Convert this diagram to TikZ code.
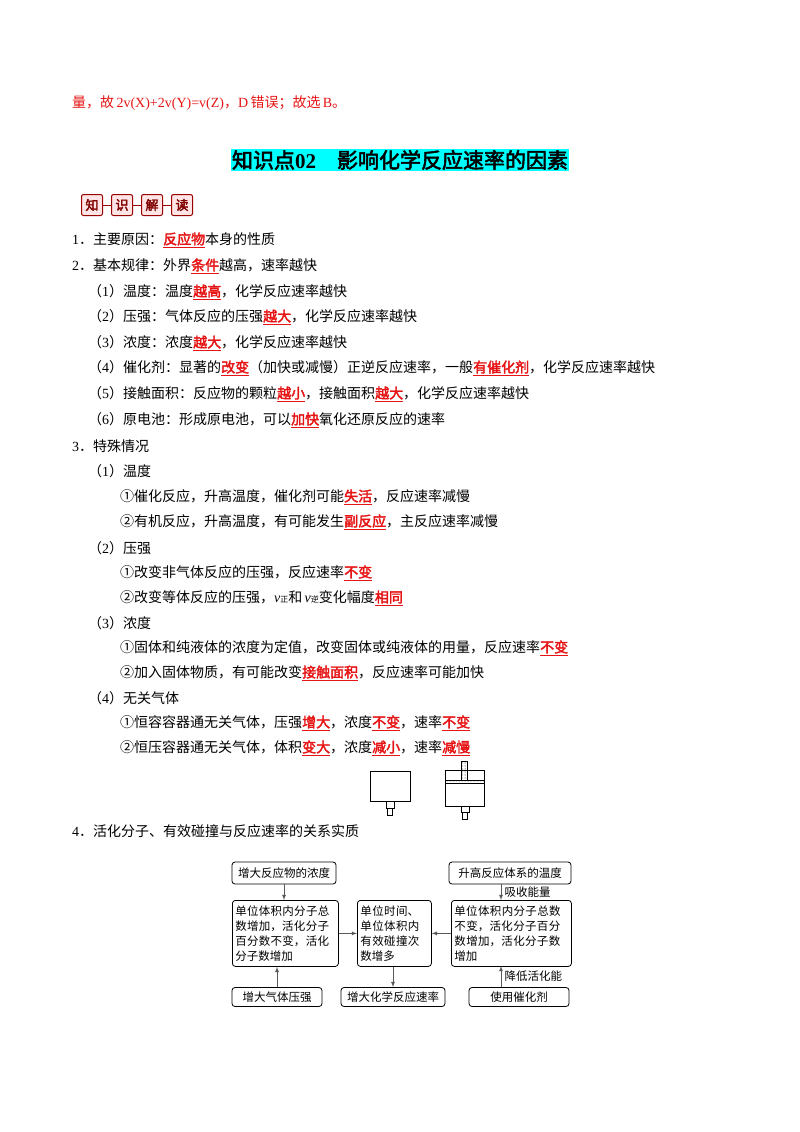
\documentclass[tikz,border=0pt]{standalone}
\usepackage{fontspec}
\setmainfont{Liberation Serif}
\newfontfamily\cjk[AutoFakeBold=2.5]{Noto Sans CJK SC}
\XeTeXlinebreaklocale "zh"
\XeTeXlinebreakskip=0pt plus 1pt
\usetikzlibrary{patterns}
\definecolor{rd}{RGB}{230,20,20}
\definecolor{cy}{RGB}{0,255,255}
\newcommand{\hl}[1]{{\color{rd}\bfseries\underline{#1}}}
\begin{document}
\begin{tikzpicture}[x=1pt,y=-1pt,
  ln/.style={anchor=west,inner sep=0pt,font=\cjk\fontsize{14}{16}\selectfont},
  fb/.style={draw,rounded corners=3pt,thick,inner sep=3pt,font=\cjk\fontsize{11.5}{15}\selectfont,align=left},
  ar/.style={-latex,thick,draw=gray!70!black},
  lb/.style={right,text=black,font=\cjk\fontsize{11.5}{12}\selectfont}]
\useasboundingbox (0,0) rectangle (800,1132);
\node[ln,text=rd] (l0) at (72,103) {量，故\,{\rmfamily 2v(X)+2v(Y)=v(Z)}，{\rmfamily D}\,错误；故选\,{\rmfamily B}。};
\node[fill=cy,inner sep=1pt,font=\cjk\bfseries\fontsize{21}{24}\selectfont] (title) at (400,160) {知识点{\rmfamily\bfseries 02}\quad 影响化学反应速率的因素};
\foreach \i/\c in {0/知,1/识,2/解,3/读}{
  \node[draw=red!60!black,fill=pink!40,rounded corners=2pt,line width=1pt,minimum size=21pt,inner sep=0pt,font=\cjk\bfseries\fontsize{13}{13}\selectfont,text=red!50!black] (b\i) at (92+\i*30,205) {\c};}
\draw[red!60!black,thick] (b0)--(b1) (b1)--(b2) (b2)--(b3);
\node[ln] (a1) at (72,240) {{\rmfamily 1}．主要原因：\hl{反应物}本身的性质};
\node[ln] (a2) at (72,266) {{\rmfamily 2}．基本规律：外界\hl{条件}越高，速率越快};
\node[ln] (a3) at (88,292) {（{\rmfamily 1}）温度：温度\hl{越高}，化学反应速率越快};
\node[ln] (a4) at (88,317) {（{\rmfamily 2}）压强：气体反应的压强\hl{越大}，化学反应速率越快};
\node[ln] (a5) at (88,343) {（{\rmfamily 3}）浓度：浓度\hl{越大}，化学反应速率越快};
\node[ln] (a6) at (88,368) {（{\rmfamily 4}）催化剂：显著的\hl{改变}（加快或减慢）正逆反应速率，一般\hl{有催化剂}，化学反应速率越快};
\node[ln] (a7) at (88,394) {（{\rmfamily 5}）接触面积：反应物的颗粒\hl{越小}，接触面积\hl{越大}，化学反应速率越快};
\node[ln] (a8) at (88,420) {（{\rmfamily 6}）原电池：形成原电池，可以\hl{加快}氧化还原反应的速率};
\node[ln] (a9) at (72,446) {{\rmfamily 3}．特殊情况};
\node[ln] (b1t) at (88,471) {（{\rmfamily 1}）温度};
\node[ln] (c1) at (120,497) {①催化反应，升高温度，催化剂可能\hl{失活}，反应速率减慢};
\node[ln] (c2) at (120,522) {②有机反应，升高温度，有可能发生\hl{副反应}，主反应速率减慢};
\node[ln] (b2t) at (88,548) {（{\rmfamily 2}）压强};
\node[ln] (c3) at (120,573) {①改变非气体反应的压强，反应速率\hl{不变}};
\node[ln] (c4) at (120,598) {②改变等体反应的压强，{\rmfamily\itshape v}{\fontsize{8}{8}\selectfont 正}和\,{\rmfamily\itshape v}{\fontsize{8}{8}\selectfont 逆}变化幅度\hl{相同}};
\node[ln] (b3t) at (88,623) {（{\rmfamily 3}）浓度};
\node[ln] (c5) at (120,648) {①固体和纯液体的浓度为定值，改变固体或纯液体的用量，反应速率\hl{不变}};
\node[ln] (c6) at (120,673) {②加入固体物质，有可能改变\hl{接触面积}，反应速率可能加快};
\node[ln] (b4t) at (88,698) {（{\rmfamily 4}）无关气体};
\node[ln] (c7) at (120,723) {①恒容容器通无关气体，压强\hl{增大}，浓度\hl{不变}，速率\hl{不变}};
\node[ln] (c8) at (120,748) {②恒压容器通无关气体，体积\hl{变大}，浓度\hl{减小}，速率\hl{减慢}};
% containers
\draw[thick] (370,771) rectangle (410,801);
\draw (386,801) rectangle (394,808) (387.5,808) rectangle (392.5,815);
\draw[thick] (445,770) rectangle (484,806);
\fill[pattern=dots] (445,780) rectangle (484,783);
\draw (445,780)--(484,780) (445,783)--(484,783);
\draw[pattern=dots] (461,761) rectangle (467,780);
\draw (461,806) rectangle (469,812) (462.5,812) rectangle (467.5,819);
\node[ln] (a10) at (72,831) {{\rmfamily 4}．活化分子、有效碰撞与反应速率的关系实质};
% flowchart
\node[fb,minimum width=104pt,minimum height=22pt,align=center] (f1) at (284,873) {增大反应物的浓度};
\node[fb,minimum width=122pt,minimum height=22pt,align=center] (f2) at (510,873) {升高反应体系的温度};
\node[fb,text width=100pt,minimum height=66pt,anchor=north west] (f3) at (232,900) {单位体积内分子总数增加，活化分子百分数不变，活化分子数增加};
\node[fb,text width=68pt,minimum height=66pt,anchor=north west] (f4) at (357,900) {单位时间、单位体积内有效碰撞次数增多};
\node[fb,text width=114pt,minimum height=66pt,anchor=north west] (f5) at (451,900) {单位体积内分子总数不变，活化分子百分数增加，活化分子数增加};
\node[fb,minimum width=90pt,minimum height=19pt,align=center] (f6) at (277,997) {增大气体压强};
\node[fb,minimum width=104pt,minimum height=19pt,align=center] (f7) at (393,997) {增大化学反应速率};
\node[fb,minimum width=100pt,minimum height=19pt,align=center] (f8) at (519,997) {使用催化剂};
\draw[ar] (f1)--(f1|-f3.north);
\draw[ar] (f6)--(f6|-f3.south);
\draw[ar] (f3)--(f4);
\draw[ar] (f5)--(f4);
\draw[ar] (f4.south-|f7)--(f7);
\coordinate (p1) at (501,884); \coordinate (q1) at (501,900);
\coordinate (p2) at (501,987); \coordinate (q2) at (501,966);
\draw[ar] (p1)--(q1) node[midway,lb] (lab1) {吸收能量};
\draw[ar] (p2)--(q2) node[midway,lb] (lab2) {降低活化能};
\end{tikzpicture}
\end{document}
